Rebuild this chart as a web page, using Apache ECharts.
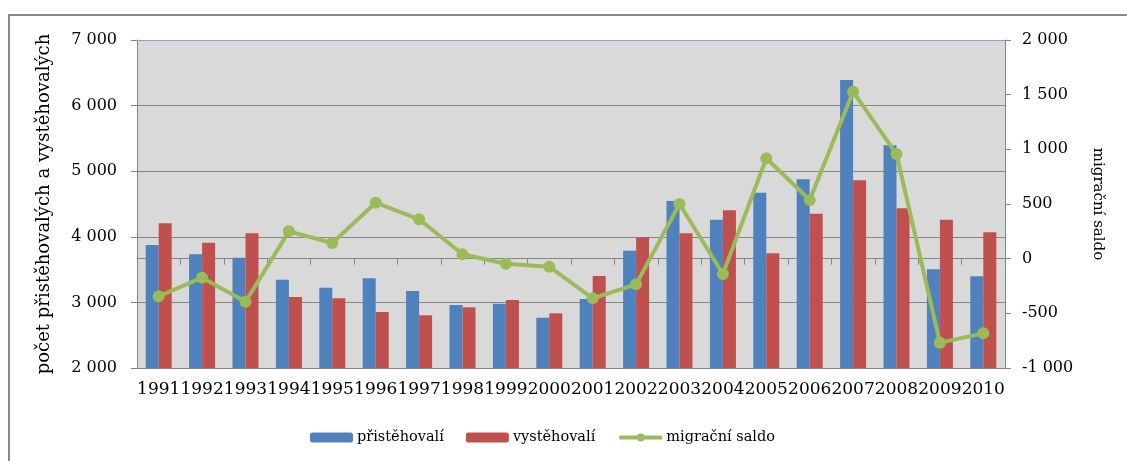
<!DOCTYPE html>
<html>
<head>
<meta charset="utf-8">
<script src="https://cdn.jsdelivr.net/npm/echarts@6/dist/echarts.min.js"></script>
<style>
html,body{margin:0;padding:0;background:#fff;}
#chart{width:1127px;height:461px;}
</style>
</head>
<body>
<div id="chart"></div>
<script>
const years = ['1991','1992','1993','1994','1995','1996','1997','1998','1999','2000','2001','2002','2003','2004','2005','2006','2007','2008','2009','2010'];
const pristehovali = [3875,3733,3681,3346,3224,3367,3174,2960,2980,2767,3052,3788,4546,4261,4672,4876,6390,5395,3504,3398];
const vystehovali = [4208,3910,4053,3082,3062,2854,2803,2925,3037,2833,3402,3992,4053,4403,3748,4352,4861,4434,4261,4068];
const migracniSaldo = [-344,-174,-394,250,143,512,360,40,-46,-73,-363,-235,500,-140,918,536,1527,957,-768,-683];
const seriesNames = ['přistěhovalí','vystěhovalí','migrační saldo'];
const leftAxisTitle = 'počet přistěhovalých a vystěhovalých';
const rightAxisTitle = 'migrační saldo';

const fmt = v => {
  const s = Math.abs(v).toString().replace(/\B(?=(\d{3})+(?!\d))/g, ' ');
  return (v < 0 ? '-' : '') + s;
};
const FONT = 'DejaVu Serif';
const chart = echarts.init(document.getElementById('chart'), null, {renderer:'canvas'});
chart.setOption({
  animation: false,
  backgroundColor: '#ffffff',
  textStyle: {fontFamily: FONT, color: '#000'},
  graphic: [
    {type:'rect', shape:{x:9, y:15, width:1300, height:600}, style:{fill:'none', stroke:'#8a8a8a', lineWidth:2}, z:-10},
    {type:'line', shape:{x1:137, y1:40.5, x2:1005, y2:40.5}, style:{stroke:'#7fa6d6', lineWidth:1}, z:100}
  ],
  grid: {left:137, top:40, right:122, bottom:93, show:true, backgroundColor:'#d9d9d9', borderWidth:0},
  legend: {
    data: seriesNames,
    left: 310, top: 430, padding: 0,
    itemWidth: 43, itemHeight: 10, itemGap: 22,
    lineStyle: {width: 4},
    textStyle: {fontFamily: FONT, fontSize: 14.5, color:'#000', padding:[0,0,0,-1]}
  },
  xAxis: {
    type: 'category',
    data: years,
    boundaryGap: true,
    axisLine: {lineStyle:{color:'#868686', width:1}},
    axisTick: {show:true, length:6, lineStyle:{color:'#868686'}},
    axisLabel: {interval:0, fontFamily: FONT, fontSize:17, color:'#000', margin:13}
  },
  yAxis: [
    {
      type:'value', min:2000, max:7000, interval:1000,
      name: leftAxisTitle, nameLocation:'middle', nameGap:84, nameRotate:90,
      nameTextStyle:{fontFamily: FONT, fontSize:18, color:'#000'},
      axisLine:{show:true, lineStyle:{color:'#868686'}},
      axisTick:{show:true, length:6, lineStyle:{color:'#868686'}},
      splitLine:{show:true, lineStyle:{color:'#868686', width:1}},
      axisLabel:{formatter: fmt, fontFamily: FONT, fontSize:16, color:'#000', margin:20}
    },
    {
      type:'value', min:-1000, max:2000, interval:500,
      name: rightAxisTitle, nameLocation:'middle', nameGap:85, nameRotate:-90,
      nameTextStyle:{fontFamily: FONT, fontSize:15, color:'#000'},
      axisLine:{show:true, lineStyle:{color:'#868686'}},
      axisTick:{show:true, length:6, lineStyle:{color:'#868686'}},
      splitLine:{show:false},
      axisLabel:{formatter: fmt, fontFamily: FONT, fontSize:16, color:'#000', margin:17}
    }
  ],
  series: [
    {name: seriesNames[0], type:'bar', data: pristehovali, yAxisIndex:0, barWidth:13, barGap:'0%',
     itemStyle:{color:'#4f81bd'}},
    {name: seriesNames[1], type:'bar', data: vystehovali, yAxisIndex:0, barWidth:13, barGap:'0%',
     itemStyle:{color:'#c0504d'}},
    {name: seriesNames[2], type:'line', data: migracniSaldo, yAxisIndex:1,
     symbol:'circle', symbolSize:12, lineStyle:{color:'#9bbb59', width:4},
     itemStyle:{color:'#9bbb59'}, z:10}
  ]
});
</script>
</body>
</html>
